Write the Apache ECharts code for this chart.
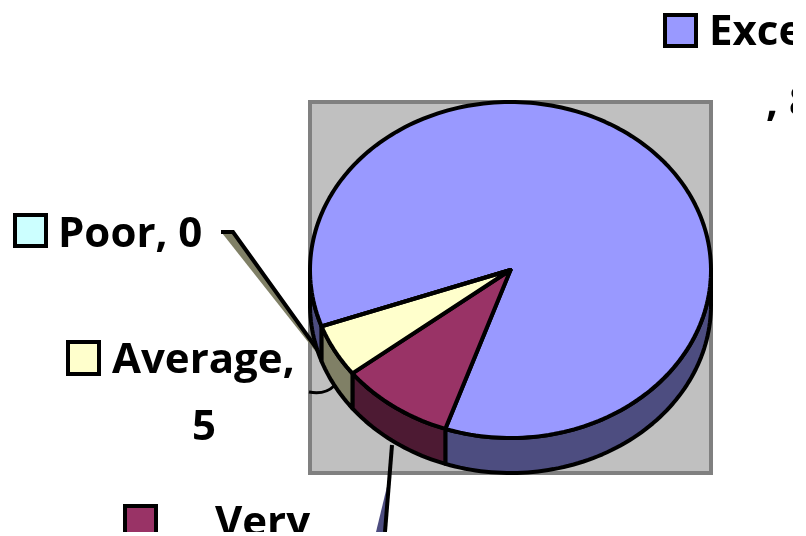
<!DOCTYPE html>
<html><head><meta charset="utf-8">
<style>html,body{margin:0;padding:0;background:#fff}#c{position:absolute;left:0;top:0;width:793px;height:532px;overflow:hidden;filter:blur(0.5px)}</style>
<script src="https://cdn.jsdelivr.net/npm/echarts@6/dist/echarts.min.js"></script>
</head><body><div id="c"></div>
<script>
const categories = ['Excellent', 'Very good', 'Average', 'Poor'];
const values = [84, 9, 5, 0];
const topColors = ['#9999FF', '#993366', '#FFFFCC', '#CCFFFF'];
const sideColors = ['#4D4D80', '#4D1A33', '#808066', '#668080'];

const cx = 510.5, cy = 270, rx = 200.5, ry = 168, depth = 35, firstAngle = 250.4;
const total = values.reduce((a, b) => a + b, 0);
let acc = firstAngle;
const sliceRows = values.map((v, i) => { const s = acc; acc += v / total * 360; return [i, v, s, acc]; });
const pt = (deg, dy) => { const t = deg * Math.PI / 180; return [cx + rx * Math.sin(t), cy + dy - ry * Math.cos(t)]; };
const FONT = 'bold 42px "Open Sans"';
const line = { stroke: '#000', lineWidth: 4, lineJoin: 'round' };

function arcPts(a, b, dy) {
  const n = Math.max(2, Math.ceil(Math.abs(b - a) / 1.5)), out = [];
  for (let k = 0; k <= n; k++) out.push(pt(a + (b - a) * k / n, dy));
  return out;
}
function renderTop(params, api) {
  const i = api.value(0), s = api.value(2), e = api.value(3);
  return { type: 'polygon', shape: { points: [[cx, cy]].concat(arcPts(s, e, 0)) },
    style: Object.assign({ fill: topColors[i] }, line), z2: 5 };
}
function renderSide(params, api) {
  const i = api.value(0), s = api.value(2), e = api.value(3), kids = [];
  // the front half of the rim is the part of the wall facing the viewer: 90..270 deg clockwise from the top
  [[90, 270], [450, 630]].forEach(([lo, hi]) => {
    const a = Math.max(s, lo), b = Math.min(e, hi);
    if (b > a) kids.push({ type: 'polygon',
      shape: { points: arcPts(a, b, 0).concat(arcPts(b, a, depth)) },
      style: Object.assign({ fill: sideColors[i] }, line) });
  });
  return { type: 'group', children: kids };
}
const key = (x, y, h, i) => ({ type: 'rect', z: 20, shape: { x, y, width: 31, height: h },
  style: { fill: topColors[i], stroke: '#000', lineWidth: 4 } });
const label = (x, y, text, align) => ({ type: 'text', z: 20, x, y,
  style: { text, font: FONT, fill: '#000', align: align || 'left', verticalAlign: 'middle' } });
const poly = (points, fill) => ({ type: 'polygon', z: 1, shape: { points }, style: { fill } });
const wire = (points) => ({ type: 'polyline', z: 1, shape: { points }, style: { stroke: '#000', lineWidth: 4, fill: null } });

const chart = echarts.init(document.getElementById('c'), null, { renderer: 'canvas' });
chart.setOption({
  animation: false,
  backgroundColor: '#fff',
  graphic: { elements: [
    { type: 'rect', z: 0, shape: { x: 310, y: 102, width: 401, height: 371 },
      style: { fill: '#C0C0C0', stroke: '#808080', lineWidth: 4 } },
    poly([[222, 233], [316, 352], [321, 356], [233, 232]], sideColors[2]),
    wire([[221, 232], [233, 232], [322, 356]]),
    poly([[376, 532], [386, 532], [391, 470]], sideColors[0]),
    wire([[392, 445], [385, 532]]),
    { type: 'bezierCurve', z: 1, shape: { x1: 309, y1: 392, cpx1: 320, cpy1: 394, cpx2: 328, cpy2: 392, x2: 334, y2: 386 }, style: { stroke: '#000', lineWidth: 3, fill: null } },
    key(665, 15, 31, 0), key(15, 215, 31, 3), key(68, 342, 32, 2), key(125, 506, 32, 1),
    label(709, 33, categories[0]),
    label(766, 104, ', ' + values[0]),
    label(58, 235, categories[3] + ', ' + values[3]),
    label(112, 361, categories[2] + ','),
    label(204, 428, String(values[2]), 'center'),
    label(215, 524, 'Very'),
    label(215, 590, 'good, ' + values[1])
  ] },
  series: [
    { type: 'custom', coordinateSystem: 'none', z: 2, silent: true, renderItem: renderSide, data: sliceRows },
    { type: 'custom', coordinateSystem: 'none', z: 3, silent: true, renderItem: renderTop, data: sliceRows }
  ]
});
</script></body></html>
